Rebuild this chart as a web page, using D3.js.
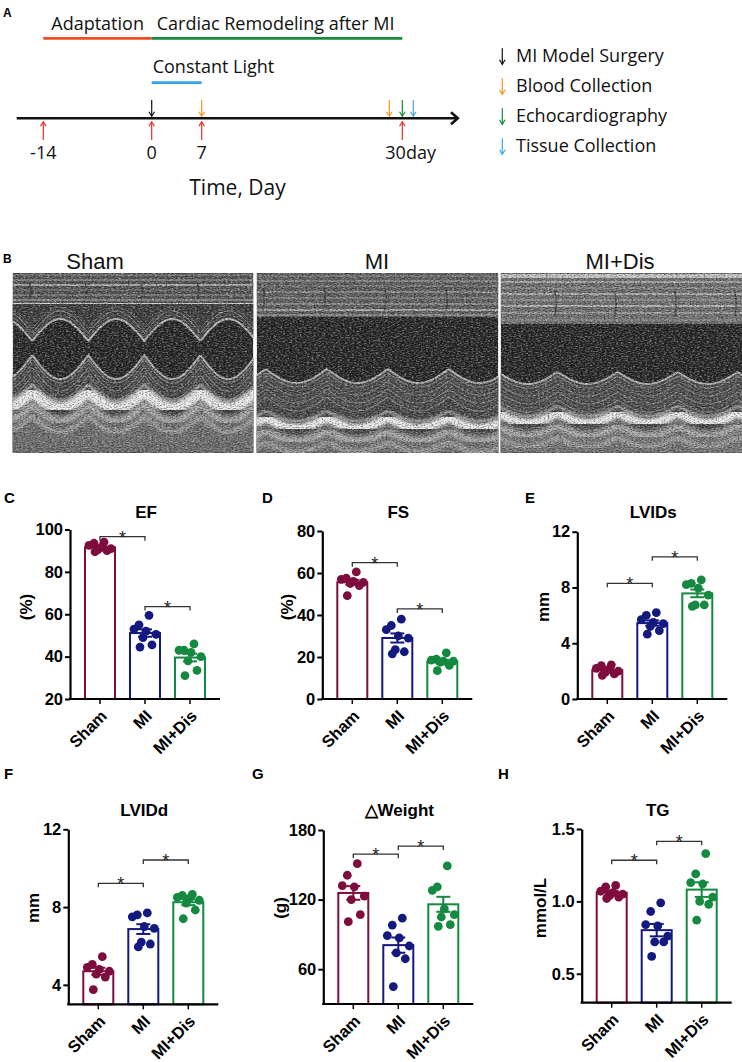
<!DOCTYPE html>
<html><head><meta charset="utf-8">
<script src="https://cdn.jsdelivr.net/npm/d3@7"></script>
<style>
html,body{margin:0;padding:0;background:#fff;}
svg{display:block;}
</style></head><body>
<svg id="fig" width="742" height="1062"></svg>
<script>
// ================= DATA =================
const groups = ["Sham", "MI", "MI+Dis"];
const groupColors = ["#7e0d3d", "#14197f", "#14893f"];

// Panel A: timeline
const timelineDays = [-14, 0, 7, 30];
const timelineLabels = ["-14", "0", "7", "30day"];
const phaseNames = ["Adaptation", "Cardiac Remodeling after MI", "Constant Light"];
const phaseStart = [-14, 0, 0];
const phaseEnd = [0, 30, 7];
const phaseColors = ["#f04d23", "#178a3c", "#3ba2ea"];
const eventNames = ["MI Model Surgery", "Blood Collection", "Echocardiography", "Tissue Collection"];
const eventColors = ["#111111", "#f7941d", "#0f8a3c", "#3fa7f0"];
const eventDays = [[0], [7, 30], [30], [30]];
const timeAxisTitle = "Time, Day";

// Panel B
const echoTitles = ["Sham", "MI", "MI+Dis"];

// Panels C-H: individual animals per group [Sham, MI, MI+Dis]
const efTicks = [20, 40, 60, 80, 100];
const efPoints = [[94, 93.5, 92.5, 91.5, 91, 90.5, 90, 89.5],
                  [59.5, 55, 53, 52, 50.5, 49, 45.5, 44.5],
                  [46, 43, 43, 42, 40, 38, 33.5, 31]];
const fsTicks = [0, 20, 40, 60, 80];
const fsPoints = [[60.5, 57.5, 57, 56, 55.5, 55, 54, 49.2],
                  [38, 35, 33, 30, 29, 23.5, 22.5, 21.5],
                  [22, 19, 18.5, 18, 18, 17.5, 16, 13.5]];
const lvidsTicks = [0, 4, 8, 12];
const lvidsPoints = [[2.45, 2.4, 2.2, 2.1, 2.0, 1.9, 1.8, 1.7],
                     [6.2, 6.0, 5.7, 5.5, 5.4, 5.2, 4.9, 4.65],
                     [8.55, 8.3, 8.2, 7.95, 7.45, 6.75, 6.75, 6.65]];
const lviddTicks = [4, 8, 12];
const lviddPoints = [[5.45, 5.05, 4.9, 4.8, 4.7, 4.55, 4.4, 3.75],
                     [7.7, 7.6, 7.5, 7.0, 6.9, 6.2, 6.1, 5.95],
                     [8.65, 8.6, 8.5, 8.45, 8.35, 8.2, 7.85, 7.4]];
const weightTicks = [60, 120, 180];
const weightPoints = [[151, 141, 132, 131, 123, 120, 107, 101],
                      [104, 98, 89, 87, 80, 74, 69, 45],
                      [149, 131, 128, 112, 107, 105, 98.5, 97]];
const tgTicks = [0.5, 1.0, 1.5];
const tgPoints = [[1.11, 1.10, 1.07, 1.06, 1.05, 1.04, 1.03, 1.02],
                  [0.99, 0.93, 0.84, 0.83, 0.76, 0.72, 0.72, 0.62],
                  [1.33, 1.19, 1.13, 1.12, 1.03, 1.0, 0.98, 0.87]];
const sigMark = "*";

// ================= DRAWING =================
const svg = d3.select("#fig");
const defs = svg.append("defs");
const SANS = '"Liberation Sans", Arial, sans-serif';
const OPEN = '"Open Sans", "Noto Sans", sans-serif';

// ---------- Panel A ----------
const A = svg.append("g");
A.append("text").text("A").attr("x", 3).attr("y", 17)
  .attr("font-family", SANS).attr("font-weight", "bold").attr("font-size", 12);

const tx = d3.scaleLinear().domain(timelineDays).range([43.3, 151.7, 201.7, 402.3]);
const phaseY = [38.3, 38.3, 82.7];
const phaseLabelDx = [8, 5, 1];
const phaseLabelY = [30, 30, 73];
phaseNames.forEach((n, i) => {
  A.append("line").attr("x1", tx(phaseStart[i])).attr("x2", tx(phaseEnd[i]))
    .attr("y1", phaseY[i]).attr("y2", phaseY[i])
    .attr("stroke", phaseColors[i]).attr("stroke-width", 2.8);
  A.append("text").text(n).attr("x", tx(phaseStart[i]) + phaseLabelDx[i]).attr("y", phaseLabelY[i])
    .attr("font-family", OPEN).attr("font-size", 18).attr("fill", "#111");
});

const lineY = 118.3;
A.append("line").attr("x1", 16.7).attr("x2", 457.5).attr("y1", lineY).attr("y2", lineY)
  .attr("stroke", "#111").attr("stroke-width", 2.6);
A.append("path").attr("d", `M451,112.3 L457.8,${lineY} L451,124.3`)
  .attr("fill", "none").attr("stroke", "#111").attr("stroke-width", 2.6).attr("stroke-linejoin", "miter");

function arrow(g, x, yTail, yTip, color, sw) {
  const dir = yTip > yTail ? -1 : 1;
  g.append("line").attr("x1", x).attr("x2", x).attr("y1", yTail).attr("y2", yTip)
    .attr("stroke", color).attr("stroke-width", sw || 1.2);
  g.append("path").attr("d", `M${x - 2.8},${yTip + dir * 4.5} L${x},${yTip} L${x + 2.8},${yTip + dir * 4.5}`)
    .attr("fill", "none").attr("stroke", color).attr("stroke-width", sw || 1.2);
}
timelineDays.forEach(d => arrow(A, tx(d), 140, 121.8, "#ee2a2a"));
const clusterOffset = [0, -13, 0, 11];
eventDays.forEach((days, e) => days.forEach(d => {
  const x = tx(d) + (d === 30 ? clusterOffset[e] : 0);
  arrow(A, x, 100, 116.2, eventColors[e]);
}));
timelineDays.forEach((d, i) => {
  const last = i === timelineDays.length - 1;
  A.append("text").text(timelineLabels[i])
    .attr("x", last ? tx(d) - 17 : tx(d)).attr("y", 159.3)
    .attr("text-anchor", last ? "start" : "middle")
    .attr("font-family", OPEN).attr("font-size", 18).attr("fill", "#111");
});
A.append("text").text(timeAxisTitle).attr("x", 237.5).attr("y", 195)
  .attr("text-anchor", "middle").attr("font-family", OPEN).attr("font-size", 21).attr("fill", "#111");

eventNames.forEach((n, i) => {
  const by = 61.7 + i * 30;
  arrow(A, 502.3, by - 13.5, by + 2.6, eventColors[i]);
  A.append("text").text(n).attr("x", 516).attr("y", by)
    .attr("font-family", OPEN).attr("font-size", 18).attr("fill", "#111");
});

// ---------- Panel B (echo M-mode pictures) ----------
const fW = defs.append("filter").attr("id", "speckW").attr("x", 0).attr("y", 0).attr("width", 1).attr("height", 1);
fW.append("feTurbulence").attr("type", "fractalNoise").attr("baseFrequency", "0.42 0.8").attr("numOctaves", 2).attr("seed", 4);
fW.append("feColorMatrix").attr("type", "matrix")
  .attr("values", "0 0 0 0 1  0 0 0 0 1  0 0 0 0 1  2.6 0 0 0 -1.1");
const fB = defs.append("filter").attr("id", "speckB").attr("x", 0).attr("y", 0).attr("width", 1).attr("height", 1);
fB.append("feTurbulence").attr("type", "fractalNoise").attr("baseFrequency", "0.5 0.95").attr("numOctaves", 2).attr("seed", 11);
fB.append("feColorMatrix").attr("type", "matrix")
  .attr("values", "0 0 0 0 0  0 0 0 0 0  0 0 0 0 0  -2.6 0 0 0 1.45");
defs.append("filter").attr("id", "soft").append("feGaussianBlur").attr("stdDeviation", 1.8);
defs.append("filter").attr("id", "soft2").append("feGaussianBlur").attr("stdDeviation", 0.8);

const B = svg.append("g");
B.append("text").text("B").attr("x", 3).attr("y", 263)
  .attr("font-family", SANS).attr("font-weight", "bold").attr("font-size", 12);

const echoX = [12.7, 256.7, 500.7];
const echoW = [240.6, 241.6, 241.3];
const echoTop = 273, echoH = 180;
const echoTitleX = [95, 377, 620];

const echoStyle = [
  {top: 31, topFill: "#505050",
   streaks: [[2, "#7a7a7a", 2], [7, "#9a9a9a", 1.5], [12, "#c4c4c4", 2], [17, "#7c7c7c", 1.5], [22, "#929292", 1.5], [27, "#a8a8a8", 1.5], [31.5, "#f6f6f6", 3]],
   septum: {yc: 57, amp: 11}, per: 56, ph: 0.15,
   wall: {yc: 94, amp: 12}, band: {yc: 127, amp: 8, w: 11}, sub: "#3e3e3e", low: "#6e6e6e"},
  {top: 44, topFill: "#5c5c5c",
   streaks: [[3, "#7c7c7c", 2], [8, "#9a9a9a", 1.5], [13, "#858585", 1.5], [19, "#a6a6a6", 1.5], [25, "#8e8e8e", 1.5], [31, "#acacac", 1.5], [37, "#bcbcbc", 2], [42, "#969696", 2]],
   septum: null, per: 61, ph: 0.35,
   wall: {yc: 103, amp: 7}, band: {yc: 150, amp: 5, w: 9}, sub: "#464646", low: "#727272"},
  {top: 51, topFill: "#6e6e6e",
   streaks: [[3, "#dcdcdc", 4], [9, "#b4b4b4", 2], [15, "#989898", 1.5], [21, "#bcbcbc", 2], [27, "#a0a0a0", 1.5], [33, "#c6c6c6", 2], [40, "#a6a6a6", 2], [47, "#929292", 1.5]],
   septum: null, per: 60, ph: 0.55,
   wall: {yc: 105, amp: 6}, band: {yc: 145, amp: 5, w: 9}, sub: "#474747", low: "#767676"}
];

// M-mode motion profile: sharp systolic excursion, rounded diastolic plateau
function motion(x0, w, yc, amp, per, ph, sign) {
  return d3.range(-2, w + 4, 1.5).map(dx => {
    const t = dx / per + ph;
    return [x0 + dx, yc + sign * amp * (1 - 2 * Math.abs(Math.cos(Math.PI * t)))];
  });
}
const L = d3.line();

echoTitles.forEach((t, i) => {
  const x0 = echoX[i], w = echoW[i], st = echoStyle[i];
  const clipId = "clip" + i;
  defs.append("clipPath").attr("id", clipId).append("rect")
    .attr("x", x0).attr("y", echoTop).attr("width", w).attr("height", echoH);
  const g = B.append("g").attr("clip-path", `url(#${clipId})`);
  g.append("rect").attr("x", x0).attr("y", echoTop).attr("width", w).attr("height", echoH).attr("fill", "#242424");
  g.append("rect").attr("x", x0).attr("y", echoTop).attr("width", w).attr("height", st.top).attr("fill", st.topFill);
  st.streaks.forEach(s => g.append("line").attr("x1", x0).attr("x2", x0 + w)
    .attr("y1", echoTop + s[0]).attr("y2", echoTop + s[0]).attr("stroke", s[1]).attr("stroke-width", s[2]).attr("opacity", 0.8));
  d3.range(0, w, st.per).forEach(dx => {
    const xx = x0 + dx + (0.5 - st.ph) * st.per;
    g.append("path").attr("d", `M${xx - 3},${echoTop + st.top * 0.35} q3,${st.top * 0.25} 0,${st.top * 0.5}`)
      .attr("fill", "none").attr("stroke", "#2e2e2e").attr("stroke-width", 1.5).attr("opacity", 0.7);
  });
  if (st.septum) {
    const sp = motion(x0, w, echoTop + st.septum.yc, st.septum.amp, st.per, st.ph, 1);
    const area = [[x0 - 2, echoTop + st.top]].concat(sp).concat([[x0 + w + 4, echoTop + st.top]]);
    g.append("path").attr("d", L(area) + "Z").attr("fill", "#3b3b3b");
    [-12, -8, -4].forEach((o, k) => g.append("path").attr("d", L(sp.map(p => [p[0], p[1] + o])))
      .attr("fill", "none").attr("stroke", k === 1 ? "#9a9a9a" : "#6e6e6e").attr("stroke-width", 1));
    g.append("path").attr("d", L(sp)).attr("fill", "none").attr("stroke", "#b8b8b8").attr("stroke-width", 2);
  }
  const wl = motion(x0, w, echoTop + st.wall.yc, st.wall.amp, st.per, st.ph, -1);
  const wArea = wl.concat([[x0 + w + 4, echoTop + echoH], [x0 - 2, echoTop + echoH]]);
  g.append("path").attr("d", L(wArea) + "Z").attr("fill", st.sub);
  [4, 8, 12, 16, 20, 24, 28].forEach((o, k) => g.append("path").attr("d", L(wl.map(p => [p[0], p[1] + o])))
    .attr("fill", "none").attr("stroke", k % 2 ? "#5e5e5e" : "#828282").attr("stroke-width", 1.1));
  g.append("path").attr("d", L(wl)).attr("fill", "none").attr("stroke", "#b2b2b2").attr("stroke-width", 2);
  const bl = motion(x0, w, echoTop + st.band.yc, st.band.amp, st.per, st.ph, -1);
  const lowArea = bl.map(p => [p[0], p[1] + 6]).concat([[x0 + w + 4, echoTop + echoH], [x0 - 2, echoTop + echoH]]);
  g.append("path").attr("d", L(lowArea) + "Z").attr("fill", st.low).attr("filter", "url(#soft2)");
  g.append("path").attr("d", L(bl.map(p => [p[0], p[1] + 13]))).attr("fill", "none")
    .attr("stroke", "#ababab").attr("stroke-width", 6).attr("filter", "url(#soft)");
  g.append("path").attr("d", L(bl.map(p => [p[0], p[1] + 24]))).attr("fill", "none")
    .attr("stroke", "#9e9e9e").attr("stroke-width", 5).attr("filter", "url(#soft)");
  g.append("path").attr("d", L(bl)).attr("fill", "none")
    .attr("stroke", "#eeeeee").attr("stroke-width", st.band.w).attr("filter", "url(#soft)");
  g.append("path").attr("d", L(bl.map(p => [p[0], p[1] - 7]))).attr("fill", "none")
    .attr("stroke", "#c4c4c4").attr("stroke-width", 2).attr("filter", "url(#soft2)");
  g.append("rect").attr("x", x0).attr("y", echoTop).attr("width", w).attr("height", echoH)
    .attr("filter", "url(#speckW)").attr("opacity", 0.42);
  g.append("rect").attr("x", x0).attr("y", echoTop).attr("width", w).attr("height", echoH)
    .attr("filter", "url(#speckB)").attr("opacity", 0.5);

  B.append("text").text(t).attr("x", echoTitleX[i]).attr("y", 269)
    .attr("text-anchor", "middle").attr("font-family", SANS).attr("font-size", 22).attr("fill", "#111");
});

// ---------- Panels C-H ----------
const panels = [
  {letter: "C", lx: 4, title: "EF", ylab: "(%)", pts: efPoints, ticks: efTicks, dom: [20, 100], ax: 70, by: 699, ty: 529.5, labX: 26, fmt: d3.format("d"), sig: [[0, 1, 96.6], [1, 2, 63.6]]},
  {letter: "D", lx: 262, title: "FS", ylab: "(%)", pts: fsPoints, ticks: fsTicks, dom: [0, 80], ax: 322.3, by: 699, ty: 531, labX: 287.7, fmt: d3.format("d"), sig: [[0, 1, 64.9], [1, 2, 42.9]]},
  {letter: "E", lx: 525, title: "LVIDs", ylab: "mm", pts: lvidsPoints, ticks: lvidsTicks, dom: [0, 12], ax: 577.3, by: 699, ty: 531.7, labX: 543.3, fmt: d3.format("d"), sig: [[0, 1, 8.3], [1, 2, 10.2]]},
  {letter: "F", lx: 4, title: "LVIDd", ylab: "mm", pts: lviddPoints, ticks: lviddTicks, dom: [3, 12], ax: 68.3, by: 1004.3, ty: 829.3, labX: 33, fmt: d3.format("d"), sig: [[0, 1, 9.22], [1, 2, 10.42]]},
  {letter: "G", lx: 252, title: "\u25B3Weight", ylab: "(g)", pts: weightPoints, ticks: weightTicks, dom: [30, 180], ax: 323.3, by: 1004, ty: 830, labX: 280, fmt: d3.format("d"), sig: [[0, 1, 159.2], [1, 2, 166.1]]},
  {letter: "H", lx: 498, title: "TG", ylab: "mmol/L", pts: tgPoints, ticks: tgTicks, dom: [0.3, 1.5], ax: 581.7, by: 1002.7, ty: 829, labX: 540, fmt: d3.format(".1f"), sig: [[0, 1, 1.284], [1, 2, 1.415]]}
];
const jitter = [4, -6, -11, 1, 11, -2, 7, -5];

panels.forEach((p, pi) => {
  const row1 = pi < 3;
  const g = svg.append("g");
  const y = d3.scaleLinear().domain(p.dom).range([p.by, p.ty]);
  const x = d3.scaleBand().domain(groups).range([p.ax, p.ax + 150]).paddingInner(1 / 3).paddingOuter(1 / 3);
  const bw = x.bandwidth();

  g.append("text").text(p.letter).attr("x", p.lx).attr("y", row1 ? 503 : 779)
    .attr("font-family", SANS).attr("font-weight", "bold").attr("font-size", 15);
  g.append("text").text(p.title).attr("x", p.ax + 76).attr("y", row1 ? 517.5 : 816)
    .attr("text-anchor", "middle").attr("font-family", SANS).attr("font-weight", "bold").attr("font-size", 17);
  g.append("text").text(p.ylab)
    .attr("transform", `translate(${p.labX},${row1 ? 607 : 908}) rotate(-90)`)
    .attr("text-anchor", "middle").attr("dominant-baseline", "central")
    .attr("font-family", SANS).attr("font-weight", "bold").attr("font-size", 17);

  p.pts.forEach((vals, gi) => {
    const m = d3.mean(vals);
    g.append("rect").attr("x", x(groups[gi])).attr("y", y(m)).attr("width", bw).attr("height", p.by - y(m))
      .attr("fill", "#fff").attr("stroke", groupColors[gi]).attr("stroke-width", 2);
  });
  p.pts.forEach((vals, gi) => {
    const cx = x(groups[gi]) + bw / 2;
    g.selectAll(null).data(vals).enter().append("circle")
      .attr("cx", (d, k) => cx + jitter[k % jitter.length]).attr("cy", d => y(d)).attr("r", 4.4)
      .attr("fill", groupColors[gi]);
  });
  p.pts.forEach((vals, gi) => {
    const m = d3.mean(vals), se = d3.deviation(vals) / Math.sqrt(vals.length);
    const cx = x(groups[gi]) + bw / 2;
    const c = groupColors[gi];
    g.append("line").attr("x1", cx).attr("x2", cx).attr("y1", y(m - se)).attr("y2", y(m + se)).attr("stroke", c).attr("stroke-width", 2);
    [m - se, m + se].forEach(v => g.append("line").attr("x1", cx - 7).attr("x2", cx + 7)
      .attr("y1", y(v)).attr("y2", y(v)).attr("stroke", c).attr("stroke-width", 2));
  });

  const ya = g.append("g").attr("transform", `translate(${p.ax},0)`)
    .call(d3.axisLeft(y).tickValues(p.ticks).tickFormat(p.fmt).tickSize(5).tickSizeOuter(0).tickPadding(2));
  ya.select(".domain").attr("stroke", "#000").attr("stroke-width", 2.2);
  ya.selectAll(".tick line").attr("stroke", "#000").attr("stroke-width", 2);
  ya.selectAll(".tick text").attr("font-family", SANS).attr("font-weight", "bold").attr("font-size", 16.5).attr("fill", "#000");

  const xa = g.append("g").attr("transform", `translate(0,${p.by})`)
    .call(d3.axisBottom(x).tickSize(5).tickSizeOuter(0));
  xa.select(".domain").attr("stroke", "#000").attr("stroke-width", 2.2).attr("d", `M${p.ax - 1.1},0H${p.ax + 150}`);
  xa.selectAll(".tick line").attr("stroke", "#000").attr("stroke-width", 1.5);
  xa.selectAll(".tick text").attr("font-family", SANS).attr("font-weight", "bold").attr("font-size", 16.5).attr("fill", "#000")
    .attr("text-anchor", "end").attr("x", 0).attr("y", 0).attr("dy", 0)
    .attr("transform", "translate(8,18) rotate(-45)");

  p.sig.forEach(s => {
    const x1 = x(groups[s[0]]) + bw / 2, x2 = x(groups[s[1]]) + bw / 2, yb = y(s[2]);
    g.append("path").attr("d", `M${x1},${yb + 4}V${yb}H${x2}V${yb + 4}`)
      .attr("fill", "none").attr("stroke", "#333").attr("stroke-width", 1.3);
    g.append("text").text(sigMark).attr("x", (x1 + x2) / 2).attr("y", yb + 7)
      .attr("text-anchor", "middle").attr("font-family", SANS).attr("font-size", 18).attr("fill", "#222");
  });
});
</script>
</body></html>
